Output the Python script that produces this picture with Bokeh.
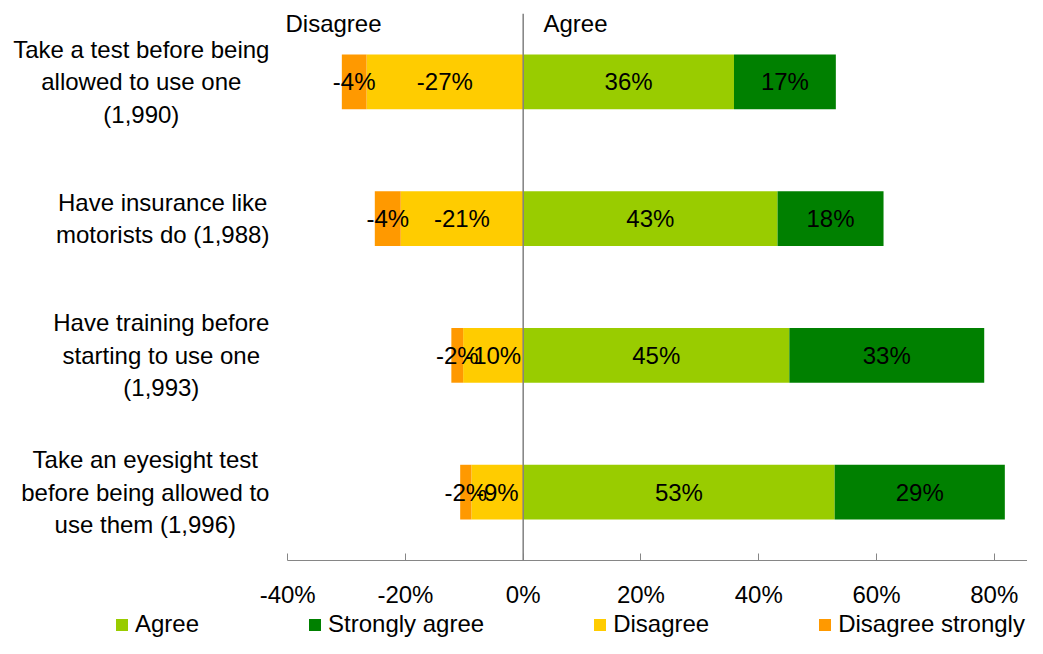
import numpy as np
from bokeh.plotting import figure
from bokeh.layouts import column
from bokeh.models import ColumnDataSource, FactorRange, Range1d, Span, Legend, LegendItem, FixedTicker
from bokeh.core.properties import value
from bokeh.embed import file_html
from bokeh.resources import INLINE

FONT = "Liberation Sans"

questions = [
    "Take a test before being\nallowed to use one\n(1,990)",
    "Have insurance like\nmotorists do (1,988)",
    "Have training before\nstarting to use one\n(1,993)",
    "Take an eyesight test\nbefore being allowed to\nuse them (1,996)",
]
agree = [35.8, 43.2, 45.2, 52.9]
strongly_agree = [17.3, 18.0, 33.1, 28.9]
disagree = [26.6, 20.8, 10.2, 8.8]
disagree_strongly = [4.2, 4.4, 2.0, 1.9]
x_ticks = [-40, -20, 0, 20, 40, 60, 80]
x_tick_labels = ["-40%", "-20%", "0%", "20%", "40%", "60%", "80%"]
series_names = ["Agree", "Strongly agree", "Disagree", "Disagree strongly"]
colors = ["#99CC00", "#008000", "#FFCC00", "#FF9900"]
side_titles = ["Disagree", "Agree"]

X_MIN, X_MAX = -88.77, 85.65
LABEL_X = -43.1   # right edge of the category label column

p = figure(width=1027, height=610,
           y_range=FactorRange(factors=questions[::-1]),
           x_range=Range1d(X_MIN, X_MAX),
           output_backend="svg", toolbar_location=None,
           min_border_left=0, min_border_right=0,
           min_border_top=13, min_border_bottom=50)

a = np.array(agree)
sa = np.array(strongly_agree)
d = np.array(disagree)
ds = np.array(disagree_strongly)

segments = [
    (np.zeros_like(a), a, [f"{round(v)}%" for v in agree]),
    (a, a + sa, [f"{round(v)}%" for v in strongly_agree]),
    (-d, np.zeros_like(d), [f"-{round(v)}%" for v in disagree]),
    (-d - ds, -d, [f"-{round(v)}%" for v in disagree_strongly]),
]

sources = []
for (left, right, labels), color in zip(segments, colors):
    src = ColumnDataSource(dict(y=questions, left=left, right=right,
                                mid=(left + right) / 2, label=labels))
    p.hbar(y="y", left="left", right="right", height=0.4, source=src,
           fill_color=color, line_color=None)
    sources.append(src)

p.add_layout(Span(location=0, dimension="height", line_color="#808080", line_width=1.5))

for src in sources:
    p.text(x="mid", y="y", text="label", source=src, text_align="center",
           text_baseline="middle", text_font=value(FONT), text_font_size="24px",
           text_color="black")

# category labels (centred lines, block right-aligned to the label column)
cat_src = ColumnDataSource(dict(x=[LABEL_X] * len(questions), y=questions, text=questions))
p.text(x="x", y="y", text="text", source=cat_src, text_align="center",
       anchor=value("center_right"), text_baseline="middle",
       text_font=value(FONT), text_font_size="24px", text_color="black",
       text_line_height=1.2)

p.text(x=[-40.37, 3.45], y=[3.927, 3.927], text=side_titles, text_align="left",
       text_baseline="middle", text_font=value(FONT), text_font_size="24px",
       text_color="black")

xa = p.xaxis[0]
xa.ticker = FixedTicker(ticks=x_ticks)
xa.major_label_overrides = {t: l for t, l in zip(x_ticks, x_tick_labels)}
xa.bounds = (-40, X_MAX)
xa.axis_line_color = "#868686"
xa.major_tick_line_color = "#868686"
xa.major_tick_in = 7
xa.major_tick_out = 0
xa.minor_tick_line_color = None
xa.major_label_standoff = 20
xa.major_label_text_font = FONT
xa.major_label_text_font_size = "24px"
xa.major_label_text_color = "black"

p.yaxis.visible = False
p.xgrid.visible = False
p.ygrid.visible = False
p.outline_line_color = None

# legend strip below the chart (swatch renderers sit outside the visible range)
lf = figure(width=1027, height=28, x_range=Range1d(0, 1), y_range=Range1d(0, 1),
            output_backend="svg", toolbar_location=None,
            min_border_left=0, min_border_right=0, min_border_top=0, min_border_bottom=0)
lf.axis.visible = False
lf.grid.visible = False
lf.outline_line_color = None
leg_renderers = [lf.hbar(y=[-5], left=[0], right=[0], height=0.4, fill_color=c, line_color=None)
                 for c in colors]
legend = Legend(
    items=[LegendItem(label=n, renderers=[r]) for n, r in zip(series_names, leg_renderers)],
    orientation="horizontal", location=(114, 0),
    glyph_width=15, glyph_height=15, label_standoff=6, spacing=108,
    padding=0, margin=0, border_line_color=None, background_fill_alpha=0,
    label_text_font=FONT, label_text_font_size="24px", label_text_color="black",
)
lf.add_layout(legend)

layout = column(p, lf, spacing=0)
open("out.html", "w").write(file_html(layout, INLINE))
